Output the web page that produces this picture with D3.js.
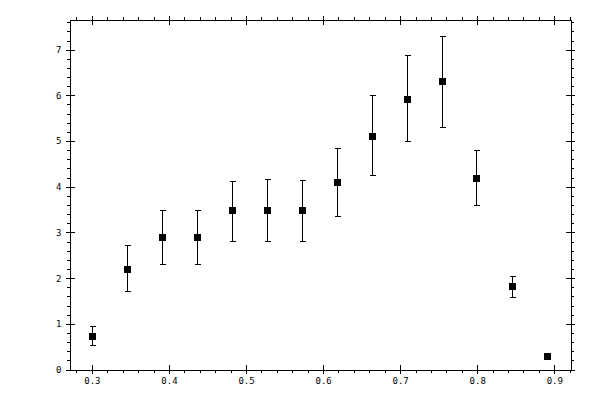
<!DOCTYPE html>
<html>
<head>
<meta charset="utf-8">
<script src="https://cdn.jsdelivr.net/npm/d3@7"></script>
<style>
  body { margin: 0; background: #fff; }
  svg { display: block; }
  .axis path, .axis line { stroke: #000; stroke-width: 1; shape-rendering: crispEdges; }
  .axis text { font-family: "DejaVu Sans Mono", monospace; font-size: 9px; fill: #000; }
</style>
</head>
<body>
<svg id="chart" width="600" height="400"></svg>
<script>
// Data
const xVals = [0.300, 0.346, 0.391, 0.436, 0.482, 0.527, 0.573, 0.618, 0.663, 0.709, 0.754, 0.799, 0.845, 0.890];
const yVals = [0.73, 2.21, 2.89, 2.91, 3.48, 3.50, 3.48, 4.10, 5.12, 5.93, 6.31, 4.20, 1.82, 0.285];
const yLow  = [0.53, 1.71, 2.30, 2.30, 2.82, 2.82, 2.82, 3.35, 4.25, 4.99, 5.30, 3.61, 1.58, 0.285];
const yHigh = [0.95, 2.72, 3.50, 3.50, 4.12, 4.16, 4.14, 4.84, 6.00, 6.88, 7.29, 4.80, 2.04, 0.285];
const xMajor = [0.3, 0.4, 0.5, 0.6, 0.7, 0.8, 0.9];
const yMajor = [0, 1, 2, 3, 4, 5, 6, 7];

const plotLeft = 69.5, plotRight = 570.5, plotTop = 19.5, plotBottom = 369.5;

const svg = d3.select("#chart");

// Scales
const x = d3.scaleLinear().domain([0.271, 0.921]).range([plotLeft, plotRight]);
const y = d3.scaleLinear().domain([0, 7.66]).range([plotBottom, plotTop]);

const xMinor = d3.range(14, 47).map(i => +(i * 0.02).toFixed(2)).filter(v => v >= 0.271 && v <= 0.921);
const yMinor = d3.range(0, 39).map(i => +(i * 0.2).toFixed(1)).filter(v => v <= 7.66);

// Axis helper: outward minor ticks, major ticks crossing the line
const drawAxis = (axisFn, isX, tx, ty, withLabels) => {
  const g = svg.append("g").attr("class", "axis").attr("transform", `translate(${tx},${ty})`);
  const sc = isX ? x : y;
  const major = isX ? xMajor : yMajor;
  const minor = isX ? xMinor : yMinor;

  g.append("g").call(axisFn(sc).tickValues(minor).tickSize(3).tickSizeOuter(0).tickFormat(""));
  g.append("g").call(axisFn(sc).tickValues(major).tickSize(4).tickSizeOuter(0).tickFormat(""));
  g.append("g").call(axisFn(sc).tickValues(major).tickSize(-5).tickSizeOuter(0).tickFormat(""));

  if (withLabels) {
    const lab = g.append("g").call(
      axisFn(sc).tickValues(major).tickSize(0).tickSizeOuter(0)
        .tickPadding(8).tickFormat(isX ? d3.format(".1f") : d3.format("d"))
    );
    lab.select(".domain").remove();
  }
};

drawAxis(d3.axisBottom, true, 0, plotBottom, true);
drawAxis(d3.axisTop, true, 0, plotTop, false);
drawAxis(d3.axisLeft, false, plotLeft, 0, true);
drawAxis(d3.axisRight, false, plotRight, 0, false);

// Error bars
const capW = 3;
const bars = svg.append("g").attr("stroke", "#000").attr("stroke-width", 1)
  .style("shape-rendering", "crispEdges");

xVals.forEach((xv, i) => {
  if (yHigh[i] - yLow[i] < 0.01) return;
  const px = Math.round(x(xv)) + 0.5;
  const lo = Math.round(y(yLow[i])) + 0.5;
  const hi = Math.round(y(yHigh[i])) + 0.5;
  bars.append("line").attr("x1", px).attr("x2", px).attr("y1", lo).attr("y2", hi);
  bars.append("line").attr("x1", px - capW).attr("x2", px + capW).attr("y1", lo).attr("y2", lo);
  bars.append("line").attr("x1", px - capW).attr("x2", px + capW).attr("y1", hi).attr("y2", hi);
});

// Square markers
const size = 7;
svg.append("g")
  .selectAll("rect")
  .data(xVals.map((xv, i) => ({ x: xv, y: yVals[i] })))
  .join("rect")
  .attr("x", d => Math.round(x(d.x)) - 3)
  .attr("y", d => Math.round(y(d.y)) - 3)
  .attr("width", size)
  .attr("height", size)
  .attr("fill", "#000")
  .style("shape-rendering", "crispEdges");
</script>
</body>
</html>
